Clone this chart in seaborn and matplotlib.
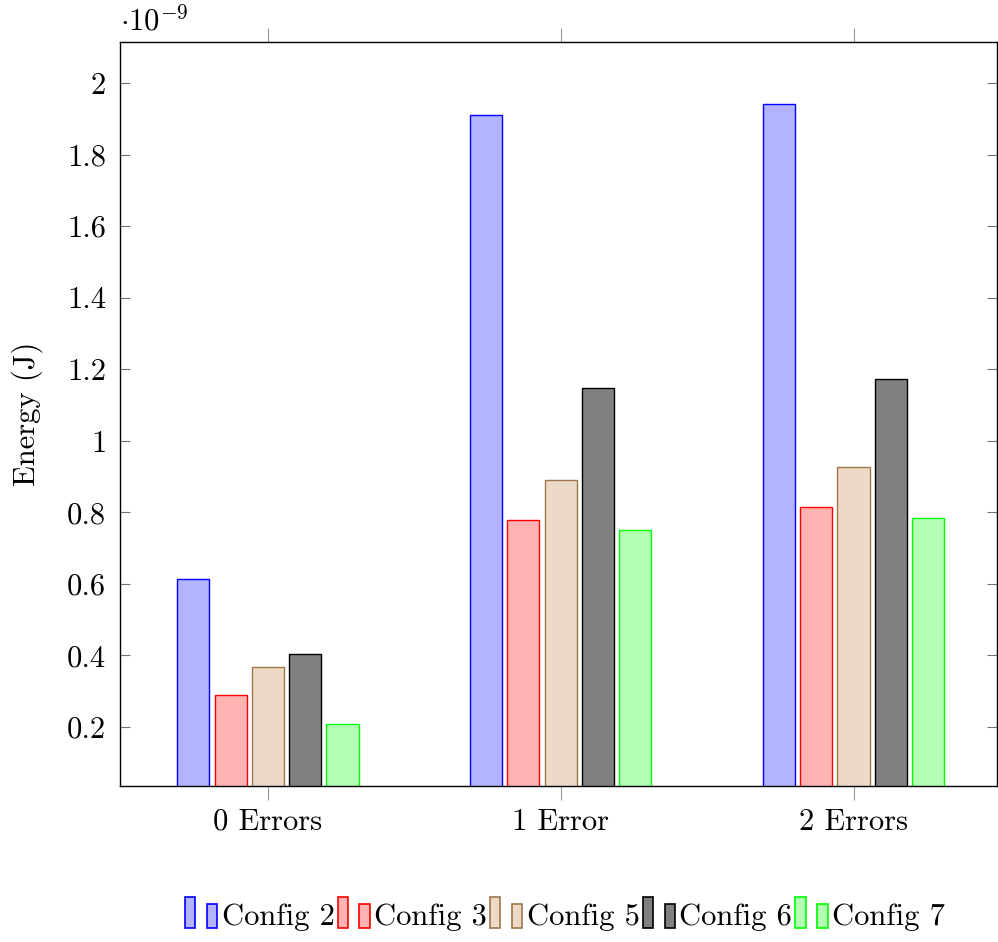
import matplotlib
matplotlib.use("Agg")
import matplotlib.pyplot as plt
import seaborn as sns
import pandas as pd
from matplotlib.patches import Rectangle
from matplotlib.legend_handler import HandlerBase
from matplotlib.ticker import FuncFormatter, MultipleLocator

# Data (energy in units of 1e-9 J)
groups = ["0 Errors", "1 Error", "2 Errors"]
configs = ["Config 2", "Config 3", "Config 5", "Config 6", "Config 7"]
config2 = [0.614, 1.912, 1.943]
config3 = [0.290, 0.779, 0.815]
config5 = [0.368, 0.891, 0.927]
config6 = [0.404, 1.148, 1.173]
config7 = [0.208, 0.751, 0.785]

fills = ["#b3b3ff", "#ffb3b3", "#ecd9c6", "#808080", "#b3ffb3"]
edges = ["#0000ff", "#ff0000", "#a0764c", "#000000", "#00ff00"]

series = [config2, config3, config5, config6, config7]
rows = []
for c, vals in zip(configs, series):
    for g, v in zip(groups, vals):
        rows.append({"group": g, "config": c, "energy": v})
df = pd.DataFrame(rows)

sns.set_style("white")
plt.rcParams["font.family"] = ["serif"]
plt.rcParams["font.serif"] = ["cmr10", "DejaVu Serif"]
plt.rcParams["mathtext.fontset"] = "cm"
plt.rcParams["axes.unicode_minus"] = False
plt.rcParams["text.color"] = "black"
plt.rcParams["axes.labelcolor"] = "black"
plt.rcParams["xtick.labelcolor"] = "black"
plt.rcParams["ytick.labelcolor"] = "black"

FS = 22

fig = plt.figure(figsize=(9.98, 9.42), dpi=100)
ax = fig.add_axes([120 / 998, 1 - 786 / 942, 877 / 998, (786 - 42) / 942])

sns.barplot(data=df, x="group", y="energy", hue="config", order=groups,
            hue_order=configs, palette=fills, saturation=1, width=0.637, gap=0.14,
            linewidth=1.0, legend=False, ax=ax, zorder=2)
for cont, ec in zip(ax.containers, edges):
    for bar in cont:
        bar.set_edgecolor(ec)
        bar.set_linewidth(1.0)

ax.set_xlim(-0.505, 2.49)
ax.set_ylim(0.035, 2.115)
ax.yaxis.set_major_locator(MultipleLocator(0.2))
ax.yaxis.set_major_formatter(FuncFormatter(lambda v, p: "%g" % round(v, 3)))
ax.set_xlabel("")
ax.set_ylabel("Energy (J)", fontsize=FS, labelpad=17, color="black")

for s in ax.spines.values():
    s.set_visible(True)
    s.set_color("black")
    s.set_linewidth(1.0)

ax.tick_params(axis="y", which="both", direction="in", left=True, right=True,
               length=7, width=0.8, color="0.45", labelsize=FS, pad=10,
               labelcolor="black")
ax.tick_params(axis="x", which="both", direction="out", bottom=True, top=True,
               length=10, width=0.8, color="0.6", labelsize=FS, pad=6,
               labelcolor="black")

ax.text(0.0, 1.008, r"$\cdot 10^{-9}$", transform=ax.transAxes,
        fontsize=FS, ha="left", va="bottom", color="black")


class TwoBarHandler(HandlerBase):
    def create_artists(self, legend, orig_handle, xdescent, ydescent,
                       width, height, fontsize, trans):
        fc = orig_handle.get_facecolor()
        ec = orig_handle.get_edgecolor()
        bw = width * 0.32
        r1 = Rectangle((-xdescent, -ydescent), bw, height * 1.15,
                       facecolor=fc, edgecolor=ec, linewidth=1.2, transform=trans)
        r2 = Rectangle((-xdescent + width - bw, -ydescent), bw, height * 0.9,
                       facecolor=fc, edgecolor=ec, linewidth=1.2, transform=trans)
        return [r1, r2]


handles = [Rectangle((0, 0), 1, 1, facecolor=f, edgecolor=e) for f, e in zip(fills, edges)]
leg = fig.legend(handles, configs, loc="center", bbox_to_anchor=(565 / 998, 1 - 916 / 942),
                 ncol=5, frameon=False, fontsize=FS,
                 handler_map={Rectangle: TwoBarHandler()},
                 handlelength=1.05, handleheight=1.0, handletextpad=0.15,
                 columnspacing=0.1)
for t in leg.get_texts():
    t.set_color("black")

fig.savefig("out.png", dpi=100)
